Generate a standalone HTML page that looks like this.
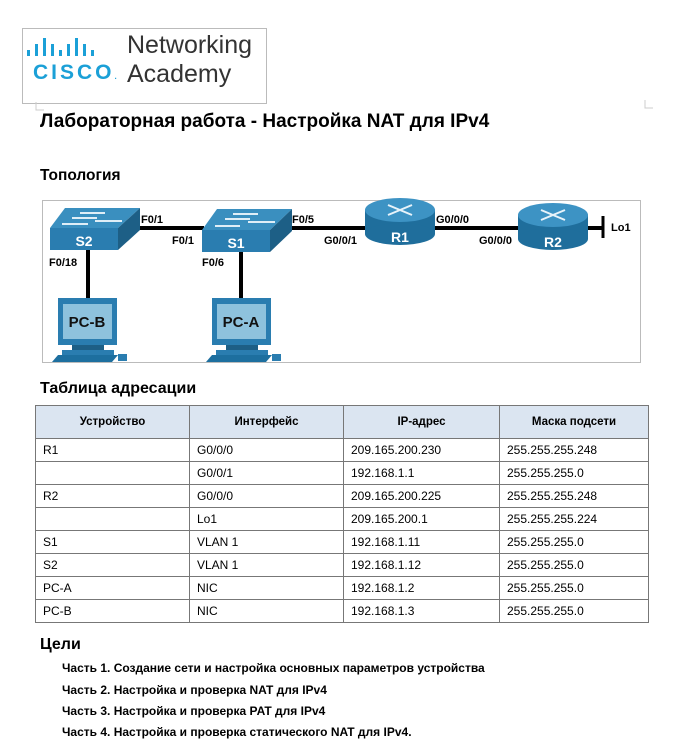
<!DOCTYPE html>
<html><head><meta charset="utf-8"><style>
body{margin:0;width:689px;height:750px;background:#fff;position:relative;overflow:hidden;font-family:"Liberation Sans",Arial,sans-serif;color:#000}
.a{position:absolute;white-space:nowrap}
table{position:absolute;left:35px;top:405px;width:614px;border-collapse:collapse;font-size:12px}
td,th{border:1px solid #777;height:22px;padding:0 0 0 7px;text-align:left}
th{background:#dbe5f1;height:32px;text-align:center;font-weight:bold;padding:0;font-size:11.5px}
td{border-top:1px solid #999}
.g{font-size:12px;font-weight:bold;letter-spacing:0}
</style></head><body>
<div class="a" style="left:22px;top:28px;width:243px;height:74px;border:1px solid #bbb"></div>
<svg class="a" style="left:0;top:0" width="689" height="750">
 <g fill="#1ba0d7">
  <rect x="27" y="50" width="3" height="6"/><rect x="35" y="44" width="3" height="12"/><rect x="43" y="38" width="3" height="18"/><rect x="51" y="44" width="3" height="12"/><rect x="59" y="50" width="3" height="6"/><rect x="67" y="44" width="3" height="12"/><rect x="75" y="38" width="3" height="18"/><rect x="83" y="44" width="3" height="12"/><rect x="91" y="50" width="3" height="6"/>
 </g>
 <path d="M36 102 v8 h8" stroke="#ccc" fill="none"/>
 <path d="M645 100 v8 h8" stroke="#ccc" fill="none"/>
 <rect x="42.5" y="200.5" width="598" height="162" fill="none" stroke="#bbb"/>
 <g stroke="#000" stroke-width="4">
  <line x1="138" y1="228" x2="204" y2="228"/><line x1="290" y1="228" x2="368" y2="228"/>
  <line x1="432" y1="228" x2="520" y2="228"/><line x1="586" y1="228" x2="603" y2="228"/>
  <line x1="88" y1="250" x2="88" y2="300"/><line x1="241" y1="252" x2="241" y2="300"/>
 </g>
 <line x1="603" y1="216" x2="603" y2="238" stroke="#000" stroke-width="3"/>
 <polygon points="50,228 65,208 140,208 118,228" fill="#3a8fbf"/>
 <polygon points="118,228 140,208 140,230 118,250" fill="#1d5f86"/>
 <rect x="50" y="228" width="68" height="22" fill="#2a7db0"/>
 <polygon points="202,230 217,209 292,209 270,230" fill="#3a8fbf"/>
 <polygon points="270,230 292,209 292,231 270,252" fill="#1d5f86"/>
 <rect x="202" y="230" width="68" height="22" fill="#2a7db0"/>
 <g stroke="#dfeef7" stroke-width="2">
  <line x1="80" y1="213" x2="105" y2="213"/><line x1="72" y1="218" x2="97" y2="218"/><line x1="95" y1="221" x2="122" y2="221"/><line x1="62" y1="224" x2="88" y2="224"/>
  <line x1="233" y1="214" x2="258" y2="214"/><line x1="225" y1="219" x2="250" y2="219"/><line x1="248" y1="222" x2="275" y2="222"/><line x1="215" y1="226" x2="240" y2="226"/>
 </g>
 <text x="84" y="246" font-size="14" font-weight="bold" fill="#fff" text-anchor="middle">S2</text>
 <text x="236" y="248" font-size="14" font-weight="bold" fill="#fff" text-anchor="middle">S1</text>
 <rect x="365" y="210" width="70" height="24" fill="#1f6e9c"/>
 <ellipse cx="400" cy="234" rx="35" ry="11" fill="#1f6e9c"/>
 <ellipse cx="400" cy="210" rx="35" ry="12" fill="#3d93c4"/>
 <rect x="518" y="215" width="70" height="24" fill="#1f6e9c"/>
 <ellipse cx="553" cy="239" rx="35" ry="11" fill="#1f6e9c"/>
 <ellipse cx="553" cy="215" rx="35" ry="12" fill="#3d93c4"/>
 <g stroke="#e8f3fa" stroke-width="2">
  <line x1="388" y1="205" x2="412" y2="215"/><line x1="388" y1="215" x2="412" y2="205"/>
  <line x1="541" y1="210" x2="565" y2="220"/><line x1="541" y1="220" x2="565" y2="210"/>
 </g>
 <text x="400" y="242" font-size="14" font-weight="bold" fill="#fff" text-anchor="middle">R1</text>
 <text x="553" y="247" font-size="14" font-weight="bold" fill="#fff" text-anchor="middle">R2</text>
 <g>
  <rect x="58" y="298" width="59" height="47" fill="#2a7db0"/><rect x="63" y="304" width="49" height="35" fill="#8ec2dd"/>
  <rect x="72" y="345" width="32" height="5" fill="#1d5f86"/><rect x="62" y="350" width="52" height="5" fill="#2a7db0"/><polygon points="52,362 58,355 118,355 112,362" fill="#1d6f9f"/>
  <rect x="118" y="354" width="9" height="7" fill="#2a7db0"/>
  <text x="87" y="327" font-size="15" font-weight="bold" fill="#111" text-anchor="middle">PC-B</text>
 </g>
 <g>
  <rect x="212" y="298" width="59" height="47" fill="#2a7db0"/><rect x="217" y="304" width="49" height="35" fill="#8ec2dd"/>
  <rect x="226" y="345" width="32" height="5" fill="#1d5f86"/><rect x="216" y="350" width="52" height="5" fill="#2a7db0"/><polygon points="206,362 212,355 272,355 266,362" fill="#1d6f9f"/>
  <rect x="272" y="354" width="9" height="7" fill="#2a7db0"/>
  <text x="241" y="327" font-size="15" font-weight="bold" fill="#111" text-anchor="middle">PC-A</text>
 </g>
 <g font-size="11" font-weight="bold">
  <text x="141" y="223">F0/1</text><text x="172" y="244">F0/1</text><text x="292" y="223">F0/5</text>
  <text x="324" y="244">G0/0/1</text><text x="436" y="223">G0/0/0</text><text x="479" y="244">G0/0/0</text>
  <text x="49" y="266">F0/18</text><text x="202" y="266">F0/6</text><text x="611" y="231">Lo1</text>
 </g>
</svg>
<div class="a" style="left:33px;top:61px;font-size:21px;font-weight:bold;color:#1ba0d7;letter-spacing:3px">CISCO<span style="font-size:8px;letter-spacing:0">.</span></div>
<div class="a" style="left:127px;top:31px;font-size:25px;color:#333;line-height:29px">Networking<br>Academy</div>
<div class="a" style="left:40px;top:111px;font-size:19px;font-weight:bold">Лабораторная работа - Настройка NAT для IPv4</div>
<div class="a" style="left:40px;top:167px;font-size:15.5px;font-weight:bold">Топология</div>
<div class="a" style="left:40px;top:380px;font-size:16px;font-weight:bold">Таблица адресации</div>
<table>
<tr><th style="width:153px">Устройство</th><th style="width:153px">Интерфейс</th><th style="width:155px">IP-адрес</th><th>Маска подсети</th></tr>
<tr><td>R1</td><td>G0/0/0</td><td>209.165.200.230</td><td>255.255.255.248</td></tr>
<tr><td style="border-top:1px solid #ddd"></td><td>G0/0/1</td><td>192.168.1.1</td><td>255.255.255.0</td></tr>
<tr><td>R2</td><td>G0/0/0</td><td>209.165.200.225</td><td>255.255.255.248</td></tr>
<tr><td style="border-top:1px solid #ddd"></td><td>Lo1</td><td>209.165.200.1</td><td>255.255.255.224</td></tr>
<tr><td>S1</td><td>VLAN 1</td><td>192.168.1.11</td><td>255.255.255.0</td></tr>
<tr><td>S2</td><td>VLAN 1</td><td>192.168.1.12</td><td>255.255.255.0</td></tr>
<tr><td>PC-A</td><td>NIC</td><td>192.168.1.2</td><td>255.255.255.0</td></tr>
<tr><td>PC-B</td><td>NIC</td><td>192.168.1.3</td><td>255.255.255.0</td></tr>
</table>
<div class="a" style="left:40px;top:636px;font-size:16px;font-weight:bold">Цели</div>
<div class="a g" style="left:62px;top:661px">Часть 1. Создание сети и настройка основных параметров устройства</div>
<div class="a g" style="left:62px;top:683px">Часть 2. Настройка и проверка NAT для IPv4</div>
<div class="a g" style="left:62px;top:704px">Часть 3. Настройка и проверка PAT для IPv4</div>
<div class="a g" style="left:62px;top:725px">Часть 4. Настройка и проверка статического NAT для IPv4.</div>
</body></html>
